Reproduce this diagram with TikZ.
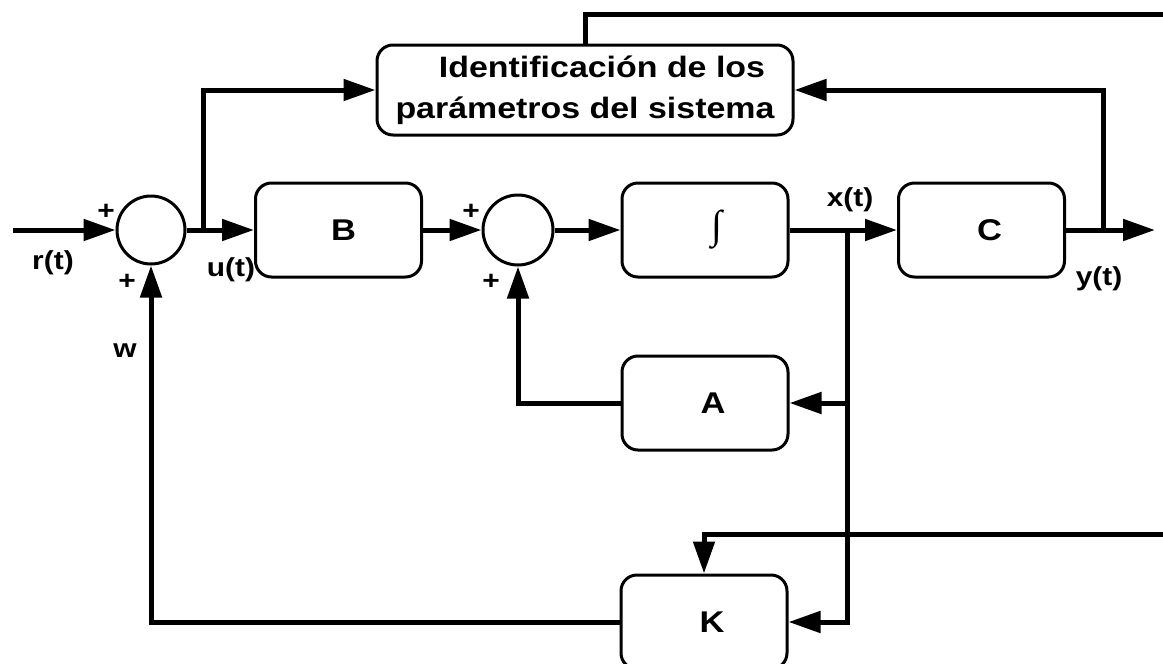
\documentclass[tikz,border=0pt]{standalone}
\usepackage{fontspec}
\setmainfont{Liberation Sans}[FakeStretch=1.15]
\newfontfamily\intfont{Liberation Serif}
\usetikzlibrary{arrows.meta,calc}
\begin{document}
\begin{tikzpicture}[x=1pt,y=-1pt,
  blk/.style={draw, line width=3pt, rounded corners=16pt, minimum width=166pt,
    minimum height=94pt, inner sep=0pt, font=\fontsize{30}{30}\selectfont\bfseries},
  sumc/.style={draw, circle, line width=3pt, minimum size=68pt, inner sep=0pt},
  conn/.style={line width=5pt},
  arr/.style={conn, -{Triangle[length=32pt,width=21pt]}},
  lbl/.style={font=\fontsize{26}{26}\selectfont\bfseries, inner sep=0pt},
  pm/.style={font=\fontsize{26}{26}\selectfont\bfseries, inner sep=0pt}]
\clip (0,0) rectangle (1163,664);

% summing junctions
\node[sumc] (s1) at (151,230) {};
\node[sumc, minimum size=70pt] (s2) at (518,230) {};

% blocks
\node[blk] (B) at (338.5,230) {\hspace{10pt}B};
\node[blk] (I) at (705,230) {\hspace{24pt}\intfont\mdseries\fontsize{40}{40}\selectfont ∫};
\node[blk] (C) at (981.5,230) {\hspace{16pt}C};
\node[blk] (A) at (705,403) {\hspace{16pt}A};
\node[blk] (K) at (704,622) {\hspace{16pt}K};
\node[blk, minimum width=416pt, minimum height=90pt, align=center,
  font=\fontsize{29.5}{41}\selectfont\bfseries] (ID) at (585,90)
  {\hspace{34pt}Identificación de los\\parámetros del sistema};

% forward path
\coordinate (rin) at (13,230);
\coordinate (ub) at (203,230);
\coordinate (xb) at (847,230);
\coordinate (yb) at (1103,230);
\coordinate (yout) at (1155,230);
\draw[arr] (rin) -- (s1.west);
\draw[arr] (s1.east) -- (B.west);
\draw[arr] (B.east) -- (s2.west);
\draw[arr] (s2.east) -- (I.west);
\draw[arr] (I.east) -- (C.west);
\draw[arr] (C.east) -- (yout);

% identification links
\coordinate (top) at (1163,14);
\draw[arr] (ub) |- (ID.west);
\draw[arr] (yb) |- (ID.east);
\draw[conn] (ID.north) |- (top);

% state feedback
\draw[arr] (xb) |- (K.east);
\draw[arr] (xb |- A.east) -- (A.east);
\draw[arr] (A.west) -| (s2.south);
\draw[arr] (K.west) -| (s1.south);
\coordinate (kin) at (1163,534);
\draw[arr] (kin) -| (K.north);

% signal labels
\node[pm] (p1) at (106,212) {+};
\node[pm] (p2) at (127,282) {+};
\node[pm] (p3) at (471,212) {+};
\node[pm] (p4) at (491,282) {+};
\node[lbl] (r) at (53,263) {r(t)};
\node[lbl] (u) at (231,270) {u(t)};
\node[lbl] (x) at (850,200) {x(t)};
\node[lbl] (y) at (1099,279) {y(t)};
\node[lbl] (w) at (125,351) {w};
\end{tikzpicture}
\end{document}
